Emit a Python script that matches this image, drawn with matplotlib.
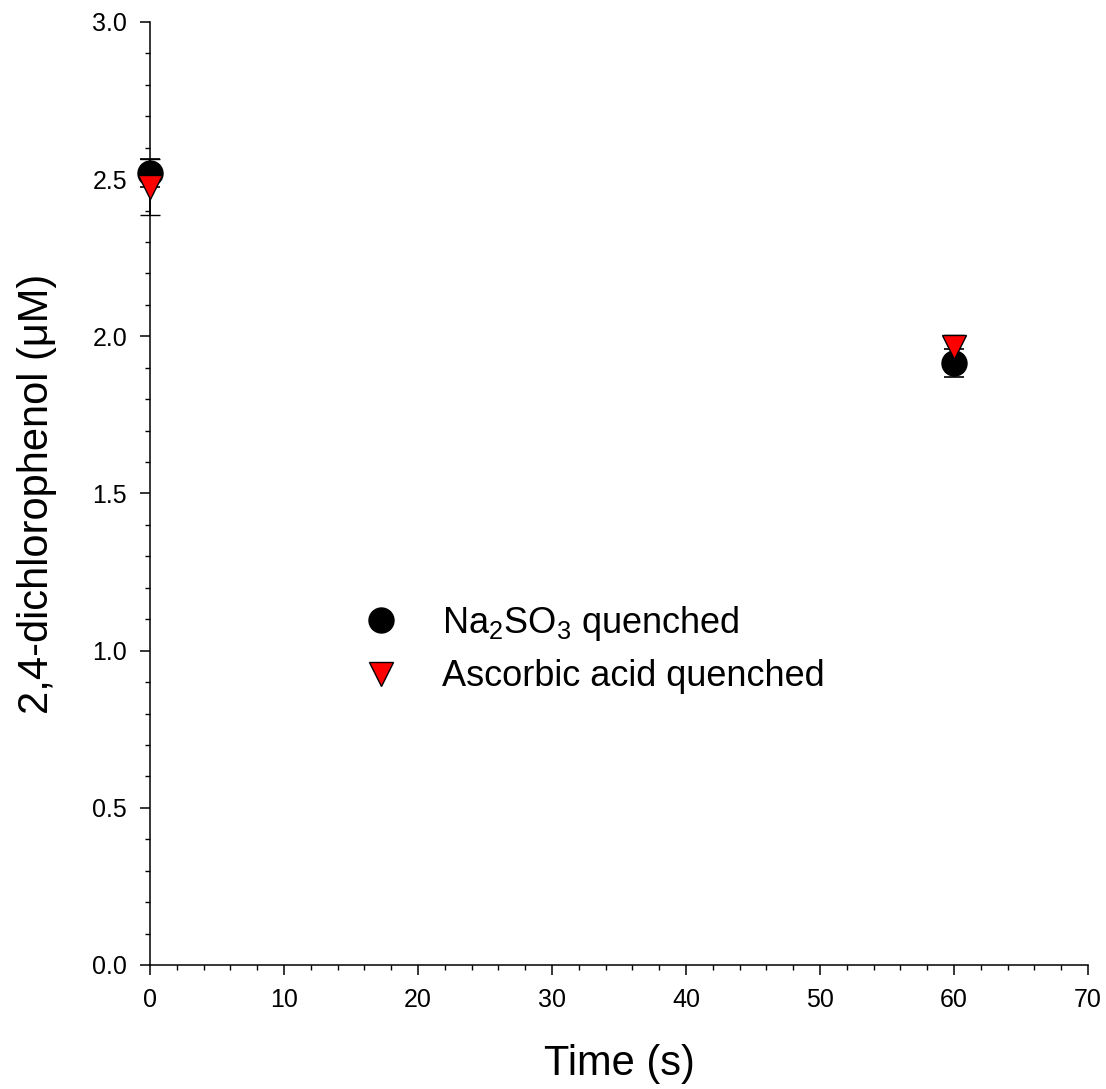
import matplotlib
matplotlib.use("Agg")
import matplotlib.pyplot as plt
from matplotlib.lines import Line2D
from matplotlib.ticker import MultipleLocator

plt.rcParams['font.family'] = ['Liberation Sans', 'DejaVu Sans']
plt.rcParams['mathtext.default'] = 'regular'

# data
time_s = [0, 60]
na2so3 = [2.52, 1.915]
na2so3_err = [0.045, 0.045]
ascorbic = [2.475, 1.965]
ascorbic_err = [0.09, 0.04]

labels = [r'Na$_2$SO$_3$ quenched', 'Ascorbic acid quenched']

fig = plt.figure(figsize=(11.06, 10.89), dpi=100)
ax = fig.add_axes([0.1356, 0.1139, 0.8481, 0.8659])

ax.errorbar(time_s, na2so3, yerr=na2so3_err, fmt='o', color='black',
            markersize=18, mec='black', ecolor='black', elinewidth=1.2,
            capsize=7, capthick=1.2, clip_on=False, zorder=3)
ax.errorbar(time_s, ascorbic, yerr=ascorbic_err, fmt='v', color='red',
            markersize=17, mec='black', mew=1.0, ecolor='black',
            elinewidth=1.2, capsize=7, capthick=1.2, clip_on=False, zorder=4)

ax.set_xlim(0, 70)
ax.set_ylim(0, 3.0)
ax.xaxis.set_major_locator(MultipleLocator(10))
ax.xaxis.set_minor_locator(MultipleLocator(2))
ax.yaxis.set_major_locator(MultipleLocator(0.5))
ax.yaxis.set_minor_locator(MultipleLocator(0.1))
ax.yaxis.set_major_formatter(plt.FormatStrFormatter('%.1f'))

ax.spines['top'].set_visible(False)
ax.spines['right'].set_visible(False)
for s in ['left', 'bottom']:
    ax.spines[s].set_linewidth(1.1)
ax.tick_params(which='major', direction='out', length=7, width=1.1,
               labelsize=18, pad=9.5)
ax.tick_params(which='minor', direction='out', length=3.6, width=1.0)

ax.set_xlabel('Time (s)', fontsize=30, labelpad=23)
ax.set_ylabel('2,4-dichlorophenol (\u03bcM)', fontsize=30, labelpad=25)

handles = [
    Line2D([], [], marker='o', ls='none', color='black', markersize=18),
    Line2D([], [], marker='v', ls='none', color='red', mec='black',
           markersize=17),
]
ax.legend(handles, labels, frameon=False, fontsize=26, loc='center left',
          bbox_to_anchor=(0.227, 0.335), borderpad=0, borderaxespad=0,
          handlelength=1, handletextpad=1.2, labelspacing=0.45)

fig.savefig('out.png', dpi=100)
